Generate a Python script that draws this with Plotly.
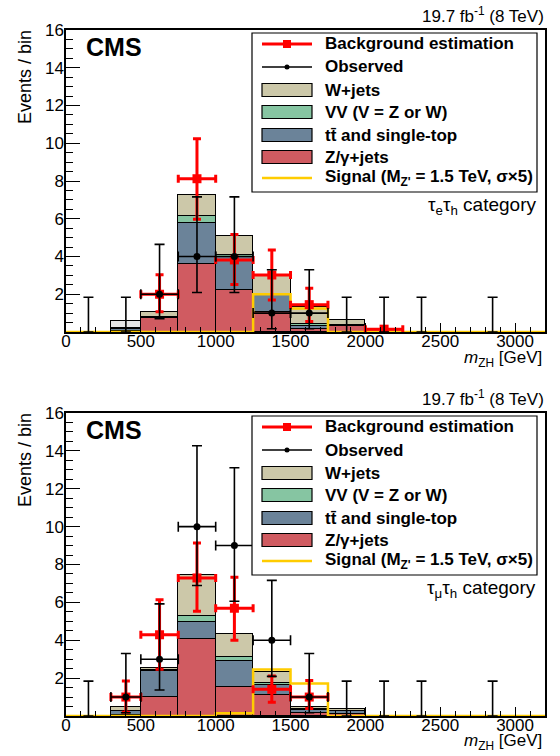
import plotly.graph_objects as go

W, H = 560, 756
FONT = "Liberation Sans"

# ---------------- data ----------------
bin_edges = [300, 500, 750, 1000, 1250, 1500, 1750, 2000, 2250]

# tau_e tau_h category (top)
e_zjets = [0.05, 0.72, 3.60, 2.20, 1.07, 0.15, 0.30, 0.12]
e_ttbar = [0.10, 0.05, 2.20, 1.80, 0.88, 0.15, 0.05, 0.00]
e_vv    = [0.02, 0.02, 0.32, 0.07, 0.05, 0.10, 0.03, 0.00]
e_wjets = [0.05, 0.25, 1.13, 1.02, 0.98, 0.90, 0.25, 0.00]
e_other = [0.38, 0.00, 0.00, 0.00, 0.00, 0.00, 0.00, 0.00]

# tau_mu tau_h category (bottom)
m_zjets = [0.05, 1.02, 4.06, 1.53, 1.10, 0.15, 0.12, 0.00]
m_ttbar = [0.22, 1.36, 0.88, 1.38, 0.53, 0.15, 0.15, 0.00]
m_vv    = [0.02, 0.06, 0.32, 0.18, 0.09, 0.05, 0.02, 0.00]
m_wjets = [0.16, 0.10, 2.21, 1.25, 0.62, 0.12, 0.06, 0.00]
m_other = [0.00, 0.00, 0.00, 0.00, 0.00, 0.00, 0.00, 0.00]

# signal (M_Z' = 1.5 TeV, x5)
sig_edges = [0, 300, 500, 750, 1000, 1250, 1500, 1750, 2000, 2250, 3200]
e_signal = [0, 0, 0, 0, 0.00, 2.00, 1.25, 0, 0, 0]
m_signal = [0, 0, 0, 0, 0.15, 2.45, 1.72, 0, 0, 0]

# background estimation
e_bkg_x = [625, 875, 1125, 1375, 1625, 2125]
e_bkg_xerr = [125, 125, 125, 125, 125, 125]
e_bkg_y = [2.00, 8.12, 3.82, 3.02, 1.45, 0.15]
e_bkg_up = [1.03, 2.12, 1.34, 1.33, 0.87, 0.10]
e_bkg_dn = [0.93, 2.15, 1.30, 1.33, 0.89, 0.10]

m_bkg_x = [400, 625, 875, 1125, 1375, 1625]
m_bkg_xerr = [100, 125, 125, 125, 125, 125]
m_bkg_y = [1.00, 4.29, 7.29, 5.69, 1.41, 1.00]
m_bkg_up = [0.85, 1.85, 1.84, 1.64, 0.70, 0.88]
m_bkg_dn = [0.80, 1.82, 1.76, 1.69, 0.68, 0.60]

# observed
obs_x = [150, 400, 625, 875, 1125, 1375, 1625, 1875, 2125, 2375, 2850]
obs_xerr = [150, 100, 125, 125, 125, 125, 125, 125, 125, 125, 350]
e_obs = [0, 0, 2, 4, 4, 1, 1, 0, 0, 0, 0]
e_obs_up = [1.84, 1.84, 2.64, 3.16, 3.16, 2.30, 2.30, 1.84, 1.84, 1.84, 1.84]
e_obs_dn = [0, 0, 1.29, 1.91, 1.91, 0.83, 0.83, 0, 0, 0, 0]
m_obs = [0, 1, 3, 10, 9, 4, 1, 0, 0, 0, 0]
m_obs_up = [1.84, 2.30, 2.92, 4.27, 4.11, 3.16, 2.30, 1.84, 1.84, 1.84, 1.84]
m_obs_dn = [0, 0.83, 1.63, 3.11, 2.94, 1.91, 0.83, 0, 0, 0, 0]

x_ticks = [0, 500, 1000, 1500, 2000, 2500, 3000]
y_ticks = [2, 4, 6, 8, 10, 12, 14, 16]

# ---------------- style ----------------
C_Z = "#d05b61"
C_TT = "#6b8399"
C_VV = "#86c5a2"
C_W = "#ccc8a9"
C_OTHER = "#e6e6e6"
C_SIG = "#ffcc00"


def py(v):
    return 1 - v / H


def px(v):
    return v / W


centers = [(a + b) / 2 for a, b in zip(bin_edges[:-1], bin_edges[1:])]
widths = [b - a for a, b in zip(bin_edges[:-1], bin_edges[1:])]

fig = go.Figure()

panels = [
    dict(xa="x", ya="y", comps=[(e_zjets, C_Z), (e_ttbar, C_TT), (e_vv, C_VV), (e_wjets, C_W), (e_other, C_OTHER)],
         sig=e_signal, bx=e_bkg_x, bxe=e_bkg_xerr, by=e_bkg_y, bu=e_bkg_up, bd=e_bkg_dn,
         obs=e_obs, ou=e_obs_up, od=e_obs_dn),
    dict(xa="x2", ya="y2", comps=[(m_zjets, C_Z), (m_ttbar, C_TT), (m_vv, C_VV), (m_wjets, C_W), (m_other, C_OTHER)],
         sig=m_signal, bx=m_bkg_x, bxe=m_bkg_xerr, by=m_bkg_y, bu=m_bkg_up, bd=m_bkg_dn,
         obs=m_obs, ou=m_obs_up, od=m_obs_dn),
]

for p in panels:
    for vals, col in p["comps"]:
        fig.add_trace(go.Bar(x=centers, y=vals, width=widths, xaxis=p["xa"], yaxis=p["ya"],
                             marker=dict(color=col, line=dict(color="black", width=1.5)),
                             showlegend=False, hoverinfo="skip"))
    fig.add_trace(go.Scatter(x=sig_edges, y=p["sig"] + [p["sig"][-1]], mode="lines", line_shape="hv",
                             line=dict(color=C_SIG, width=2.5), xaxis=p["xa"], yaxis=p["ya"],
                             showlegend=False))
    fig.add_trace(go.Scatter(x=p["bx"], y=p["by"], mode="markers", xaxis=p["xa"], yaxis=p["ya"],
                             marker=dict(symbol="square", size=9, color="red"),
                             error_y=dict(type="data", symmetric=False, array=p["bu"], arrayminus=p["bd"],
                                          color="red", thickness=3, width=4),
                             error_x=dict(type="data", array=p["bxe"], color="red", thickness=3, width=4),
                             showlegend=False))
    nz = [i for i, v in enumerate(p["obs"]) if v > 0]
    zz = [i for i, v in enumerate(p["obs"]) if v == 0]
    fig.add_trace(go.Scatter(x=[obs_x[i] for i in zz], y=[p["obs"][i] for i in zz], mode="markers",
                             xaxis=p["xa"], yaxis=p["ya"],
                             marker=dict(size=1, color="rgba(0,0,0,0)"),
                             error_y=dict(type="data", symmetric=False, array=[p["ou"][i] for i in zz],
                                          arrayminus=[p["od"][i] for i in zz], color="black", thickness=1.6, width=5),
                             showlegend=False))
    fig.add_trace(go.Scatter(x=[obs_x[i] for i in nz], y=[p["obs"][i] for i in nz], mode="markers",
                             xaxis=p["xa"], yaxis=p["ya"],
                             marker=dict(symbol="circle", size=7, color="black"),
                             error_y=dict(type="data", symmetric=False, array=[p["ou"][i] for i in nz],
                                          arrayminus=[p["od"][i] for i in nz], color="black", thickness=1.6, width=5),
                             error_x=dict(type="data", array=[obs_xerr[i] for i in nz], color="black",
                                          thickness=1.6, width=5),
                             showlegend=False))


def xaxis(anchor):
    return dict(domain=[px(66), px(545)], range=[0, 3200], anchor=anchor, showline=True, linecolor="black",
                linewidth=1.5, mirror=True, ticks="inside", ticklen=9, tickwidth=1.2, tickcolor="black",
                tickmode="array", tickvals=x_ticks, ticktext=[str(v) for v in x_ticks],
                tickfont=dict(family=FONT, size=17, color="black"), ticklabelstandoff=-7,
                minor=dict(ticks="inside", ticklen=5, tickmode="linear", tick0=0, dtick=100,
                           tickcolor="black", tickwidth=1),
                showgrid=False, zeroline=False, fixedrange=True, automargin=False)


def yaxis(anchor, top, bot):
    return dict(domain=[py(bot), py(top)], range=[0, 16], anchor=anchor, showline=True, linecolor="black",
                linewidth=1.5, mirror=True, ticks="inside", ticklen=14, tickwidth=1.2, tickcolor="black",
                tickmode="array", tickvals=y_ticks, ticktext=[str(v) for v in y_ticks],
                tickfont=dict(family=FONT, size=17, color="black"), ticklabelstandoff=-3,
                minor=dict(ticks="inside", ticklen=7, tickmode="linear", tick0=0, dtick=0.5,
                           tickcolor="black", tickwidth=1),
                showgrid=False, zeroline=False, fixedrange=True, automargin=False)


fig.update_layout(
    width=W, height=H, margin=dict(l=0, r=0, t=0, b=0, pad=0), autosize=False,
    paper_bgcolor="white", plot_bgcolor="white", barmode="stack", bargap=0, showlegend=False,
    xaxis=xaxis("y"), yaxis=yaxis("x", 30, 332),
    xaxis2=xaxis("y2"), yaxis2=yaxis("x2", 413, 716),
    font=dict(family=FONT, color="black"),
)

shapes = []
annotations = []
legend_items = [
    ("Background estimation", "bkg"),
    ("Observed", "obs"),
    ("W+jets", C_W),
    ("VV (V = Z or W)", C_VV),
    ("t\u0074\u0304 and single-top", C_TT),
    ("Z/\u03b3+jets", C_Z),
    ("Signal (M<sub>Z'</sub> = 1.5 TeV, \u03c3\u00d75)", "sig"),
]
row_y = [44, 67, 90, 112, 135, 157, 178]
cats = ["\u03c4<sub>e</sub>\u03c4<sub>h</sub> category", "\u03c4<sub>\u03bc</sub>\u03c4<sub>h</sub> category"]

for k, off in enumerate([0, 383]):
    shapes.append(dict(type="rect", xref="paper", yref="paper", x0=px(252), x1=px(537),
                       y0=py(192 + off), y1=py(33 + off), line=dict(color="black", width=1.2),
                       fillcolor="white", layer="above"))
    for (label, kind), ry in zip(legend_items, row_y):
        yc = ry + off
        if kind == "bkg":
            shapes.append(dict(type="line", xref="paper", yref="paper", x0=px(262), x1=px(312),
                               y0=py(yc), y1=py(yc), line=dict(color="red", width=3), layer="above"))
            shapes.append(dict(type="rect", xref="paper", yref="paper", x0=px(283), x1=px(291),
                               y0=py(yc + 4), y1=py(yc - 4), line=dict(color="red", width=0),
                               fillcolor="red", layer="above"))
        elif kind == "obs":
            shapes.append(dict(type="line", xref="paper", yref="paper", x0=px(262), x1=px(312),
                               y0=py(yc), y1=py(yc), line=dict(color="black", width=1.5), layer="above"))
            shapes.append(dict(type="circle", xref="paper", yref="paper", x0=px(284.5), x1=px(289.5),
                               y0=py(yc + 2.5), y1=py(yc - 2.5), line=dict(color="black", width=0),
                               fillcolor="black", layer="above"))
        elif kind == "sig":
            shapes.append(dict(type="line", xref="paper", yref="paper", x0=px(262), x1=px(312),
                               y0=py(yc), y1=py(yc), line=dict(color=C_SIG, width=2.5), layer="above"))
        else:
            shapes.append(dict(type="rect", xref="paper", yref="paper", x0=px(262), x1=px(312),
                               y0=py(yc + 6.5), y1=py(yc - 6.5), line=dict(color="black", width=1.2),
                               fillcolor=kind, layer="above"))
        annotations.append(dict(xref="paper", yref="paper", x=px(323), y=py(yc), xanchor="left",
                                yanchor="middle", text="<b>" + label + "</b>", showarrow=False,
                                font=dict(family=FONT, size=17, color="black")))
    annotations.append(dict(xref="paper", yref="paper", x=px(84), y=py(47 + off), xanchor="left",
                            yanchor="middle", text="<b>CMS</b>", showarrow=False,
                            font=dict(family=FONT, size=25, color="black")))
    annotations.append(dict(xref="paper", yref="paper", x=px(546), y=py(15 + off), xanchor="right",
                            yanchor="middle", text="19.7 fb<sup>-1</sup> (8 TeV)", showarrow=False,
                            font=dict(family=FONT, size=17, color="black")))
    annotations.append(dict(xref="paper", yref="paper", x=px(538), y=py(206 + off), xanchor="right",
                            yanchor="middle", text=cats[k], showarrow=False,
                            font=dict(family=FONT, size=19, color="black")))
    annotations.append(dict(xref="paper", yref="paper", x=px(25), y=py(28 + off), xanchor="center",
                            yanchor="top", text="Events / bin", textangle=-90, showarrow=False,
                            font=dict(family=FONT, size=18, color="black")))
    annotations.append(dict(xref="paper", yref="paper", x=px(544), y=py(346 + off), xanchor="right",
                            yanchor="top", text="<i>m</i><sub>ZH</sub> [GeV]", showarrow=False,
                            font=dict(family=FONT, size=17, color="black")))

fig.update_layout(shapes=shapes, annotations=annotations)
fig.write_html("out.html", config={"displayModeBar": False},
               post_script="document.body.style.margin='0';document.body.style.padding='0';"
                           "document.documentElement.style.overflow='hidden';")
